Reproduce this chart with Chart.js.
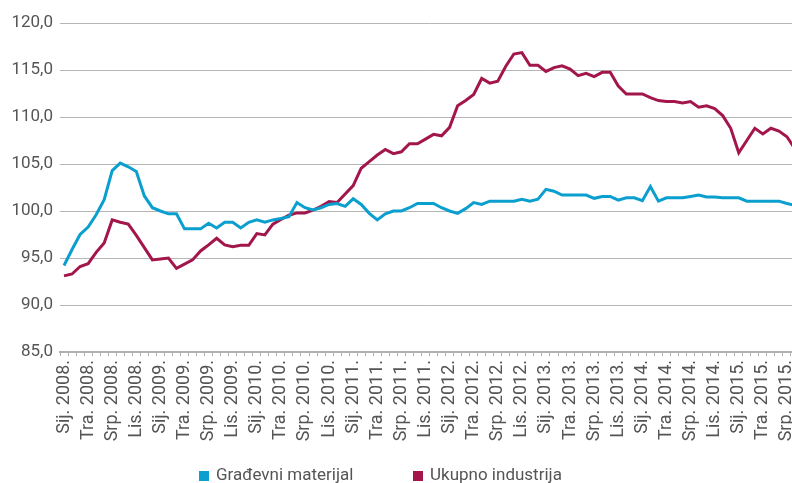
<!DOCTYPE html>
<html>
<head>
<meta charset="utf-8">
<script src="https://cdn.jsdelivr.net/npm/chart.js@4/dist/chart.umd.min.js"></script>
<style>
  html, body { margin: 0; padding: 0; overflow: hidden; background: #ffffff; width: 792px; height: 483px; }
  canvas { display: block; }
</style>
</head>
<body>
<canvas id="c" width="800" height="483"></canvas>
<script>
// ---- data ----
const monthNames = ['Sij.', 'Vlj.', 'Ožu.', 'Tra.', 'Svi.', 'Lip.', 'Srp.', 'Kol.', 'Ruj.', 'Lis.', 'Stu.', 'Pro.'];
const years = [2008, 2009, 2010, 2011, 2012, 2013, 2014, 2015];
const monthCount = 92; // Sij. 2008 – Kol. 2015

const seriesNames = ['Građevni materijal', 'Ukupno industrija'];

const gradevniMaterijal = [
  94.2, 95.9, 97.5, 98.3, 99.6, 101.2, 104.3, 105.1, 104.7, 104.2, 101.6, 100.35,
  100.0, 99.7, 99.7, 98.1, 98.1, 98.1, 98.7, 98.2, 98.8, 98.8, 98.2, 98.8,
  99.05, 98.8, 99.05, 99.2, 99.4, 100.9, 100.35, 100.1, 100.35, 100.7, 100.8, 100.5,
  101.3, 100.7, 99.75, 99.05, 99.7, 100.0, 100.0, 100.35, 100.8, 100.8, 100.8, 100.35,
  100.0, 99.75, 100.25, 100.9, 100.7, 101.05, 101.05, 101.05, 101.05, 101.25, 101.05, 101.25,
  102.3, 102.1, 101.7, 101.7, 101.7, 101.7, 101.35, 101.55, 101.55, 101.15, 101.4, 101.4,
  101.1, 102.6, 101.05, 101.4, 101.4, 101.4, 101.55, 101.7, 101.5, 101.5, 101.4, 101.4,
  101.4, 101.05, 101.05, 101.05, 101.05, 101.05, 100.8, 100.6
];

const ukupnoIndustrija = [
  93.1, 93.3, 94.1, 94.4, 95.6, 96.6, 99.05, 98.8, 98.6, 97.4, 96.1, 94.8,
  94.9, 95.0, 93.9, 94.35, 94.8, 95.75, 96.4, 97.1, 96.4, 96.2, 96.35, 96.35,
  97.6, 97.45, 98.6, 99.1, 99.55, 99.8, 99.8, 100.1, 100.5, 101.0, 100.9, 101.8,
  102.7, 104.55, 105.25, 105.95, 106.55, 106.1, 106.3, 107.15, 107.15, 107.65, 108.15, 108.0,
  108.9, 111.2, 111.75, 112.4, 114.1, 113.6, 113.8, 115.4, 116.7, 116.85, 115.5, 115.5,
  114.85, 115.25, 115.45, 115.1, 114.4, 114.65, 114.3, 114.75, 114.75, 113.3, 112.45, 112.45,
  112.45, 112.05, 111.75, 111.65, 111.65, 111.5, 111.65, 111.05, 111.2, 110.9, 110.15, 108.8,
  106.2, 107.5, 108.8, 108.2, 108.8, 108.5, 107.9, 106.6
];

const yTicks = [85, 90, 95, 100, 105, 110, 115, 120];

// category labels built from month names and years
const categories = [];
for (const y of years) {
  for (const m of monthNames) {
    if (categories.length < monthCount) categories.push(m + ' ' + y + '.');
  }
}

// ---- style ----
const BLUE = '#0a9fcf';
const RED = '#a3164c';
const TEXT = '#555555';
const FONT = 'Roboto, "DejaVu Sans", sans-serif';

const bottomLegend = {
  id: 'bottomLegend',
  afterDraw(chart) {
    const ctx = chart.ctx;
    ctx.save();
    const items = [
      { label: seriesNames[0], color: BLUE, x: 199 },
      { label: seriesNames[1], color: RED, x: 413 }
    ];
    ctx.font = '17px ' + FONT;
    ctx.textBaseline = 'alphabetic';
    ctx.textAlign = 'left';
    for (const it of items) {
      ctx.fillStyle = it.color;
      ctx.fillRect(it.x, 471, 10, 10);
      ctx.fillStyle = TEXT;
      ctx.fillText(it.label, it.x + 17, 480);
    }
    ctx.restore();
  }
};

new Chart(document.getElementById('c'), {
  type: 'line',
  data: {
    labels: categories,
    datasets: [
      {
        label: seriesNames[0],
        data: gradevniMaterijal,
        borderColor: BLUE,
        backgroundColor: BLUE,
        borderWidth: 3,
        pointRadius: 0,
        tension: 0,
        fill: false
      },
      {
        label: seriesNames[1],
        data: ukupnoIndustrija,
        borderColor: RED,
        backgroundColor: RED,
        borderWidth: 3,
        pointRadius: 0,
        tension: 0,
        fill: false
      }
    ]
  },
  options: {
    responsive: false,
    animation: false,
    devicePixelRatio: 1,
    layout: { padding: { left: 0, right: 1, top: 23, bottom: 36 } },
    plugins: {
      legend: { display: false },
      tooltip: { enabled: false }
    },
    scales: {
      x: {
        offset: true,
        grid: {
          display: true,
          drawOnChartArea: false,
          drawTicks: true,
          tickLength: 4,
          color: '#b0b0b0',
          offset: true
        },
        border: { display: true, color: '#b0b0b0', width: 2 },
        ticks: {
          autoSkip: false,
          maxRotation: 90,
          minRotation: 90,
          padding: 4,
          color: TEXT,
          font: { family: FONT, size: 18 },
          callback: function (v, i) { return i % 3 === 0 ? categories[i] : ''; }
        },
        afterFit: function (scale) {
          scale.height = 95;
          scale.paddingLeft = 0;
          scale.paddingRight = 0;
        }
      },
      y: {
        min: 85,
        max: 120,
        afterBuildTicks: function (scale) {
          scale.ticks = yTicks.map(v => ({ value: v }));
        },
        grid: {
          color: '#b5b5b5',
          lineWidth: 1,
          drawTicks: false
        },
        border: { display: false },
        ticks: {
          padding: 7,
          color: TEXT,
          font: { family: FONT, size: 17 },
          callback: function (v) { return v.toFixed(1).replace('.', ','); }
        },
        afterFit: function (scale) { scale.width = 60; }
      }
    }
  },
  plugins: [bottomLegend]
});
</script>
</body>
</html>
